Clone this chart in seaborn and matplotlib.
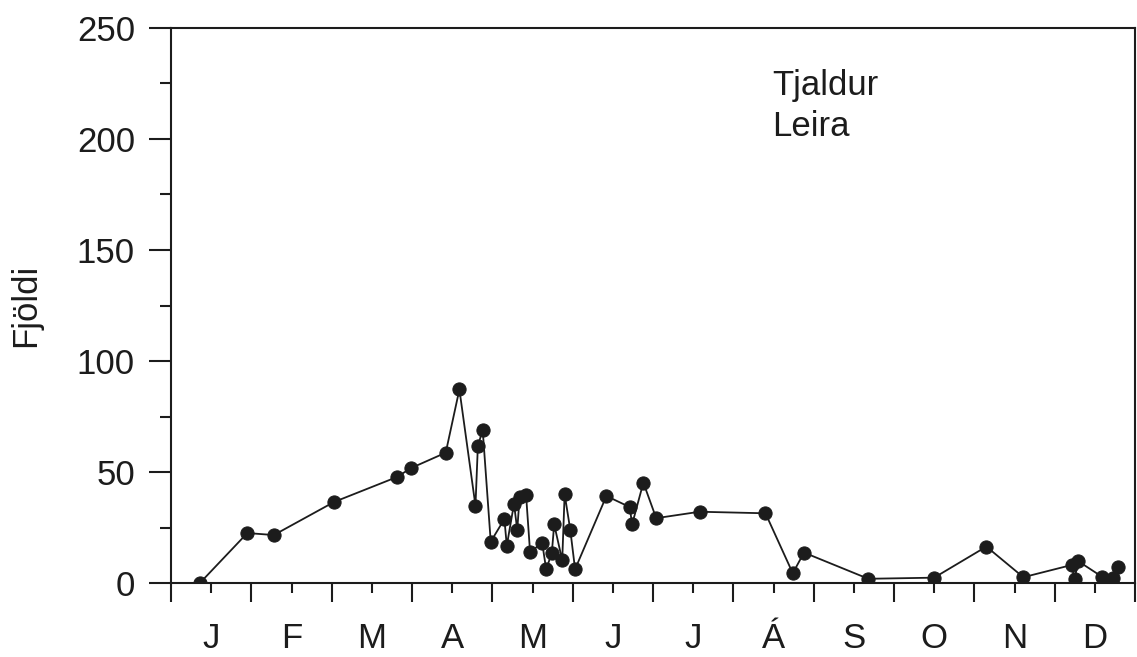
import pandas as pd
import seaborn as sns
import matplotlib.pyplot as plt
from matplotlib.ticker import MultipleLocator, FixedLocator, NullFormatter

# months as letters (Icelandic), x position is month fraction (0 = 1. jan)
months = ["J", "F", "M", "A", "M", "J", "J", "Á", "S", "O", "N", "D"]

manudur = [0.36, 0.95, 1.28, 2.03, 2.81, 2.99, 3.42, 3.59, 3.79, 3.82,
           3.88, 3.98, 4.15, 4.18, 4.27, 4.31, 4.34, 4.42, 4.47, 4.62,
           4.67, 4.74, 4.77, 4.87, 4.90, 4.97, 5.03, 5.42, 5.71, 5.74,
           5.88, 6.04, 6.58, 7.40, 7.74, 7.88, 8.68, 9.50, 10.15, 10.61,
           11.21, 11.25, 11.29, 11.59, 11.72, 11.79]
fjoldi = [0, 22.5, 21.6, 36.5, 47.7, 51.8, 58.7, 87.2, 34.8, 61.8,
          68.9, 18.6, 28.8, 16.8, 35.7, 23.9, 38.9, 39.6, 13.8, 18.2,
          6.2, 13.4, 26.4, 10.2, 40.0, 24.0, 6.2, 39.2, 34.2, 26.4,
          45.2, 29.2, 32.1, 31.4, 4.4, 13.7, 1.9, 2.4, 16.4, 2.6,
          8.1, 1.7, 9.9, 2.8, 2.4, 7.3]

df = pd.DataFrame({"manudur": manudur, "fjoldi": fjoldi})

sns.set_style("ticks")
plt.rcParams["font.family"] = ["Liberation Sans", "DejaVu Sans"]
plt.rcParams["font.size"] = 25

ink = "#1c1c1c"
fig = plt.figure(figsize=(11.37, 6.57), dpi=100)
ax = fig.add_axes([171 / 1137, 1 - 583 / 657, 964 / 1137, 555 / 657])

sns.lineplot(data=df, x="manudur", y="fjoldi", ax=ax, sort=False, estimator=None,
             color=ink, linewidth=1.3, marker="o", markersize=9.5,
             markeredgecolor=ink, markerfacecolor=ink)

ax.set_xlim(0, 12)
ax.set_ylim(0, 250)

# y: major every 50, minor every 25
ax.yaxis.set_major_locator(MultipleLocator(50))
ax.yaxis.set_minor_locator(MultipleLocator(25))
# x: long ticks at month boundaries, labels in the middle of each month
ax.xaxis.set_major_locator(MultipleLocator(1))
ax.xaxis.set_major_formatter(NullFormatter())
ax.xaxis.set_minor_locator(FixedLocator([i + 0.5 for i in range(12)]))
ax.set_xticklabels(months, minor=True)

ax.tick_params(axis="y", which="major", direction="out", length=16, width=1.5,
               pad=10, colors=ink, labelsize=25)
ax.tick_params(axis="y", which="minor", direction="out", length=8, width=1.5, colors=ink)
ax.tick_params(axis="x", which="major", direction="out", length=14, width=1.5, colors=ink)
ax.tick_params(axis="x", which="minor", direction="out", length=7, width=1.5,
               pad=21, colors=ink, labelsize=25)

for s in ax.spines.values():
    s.set_visible(True)
    s.set_linewidth(1.5)
    s.set_color(ink)

ax.set_xlabel("")
ax.set_ylabel("Fjöldi", fontsize=25, color=ink)
ax.yaxis.set_label_coords(-0.134, 0.5)

ax.text(0.624, 0.926, "Tjaldur\nLeira", transform=ax.transAxes, ha="left", va="top",
        fontsize=25, color=ink, linespacing=1.32)

fig.savefig("out.png", dpi=100, facecolor="white")
